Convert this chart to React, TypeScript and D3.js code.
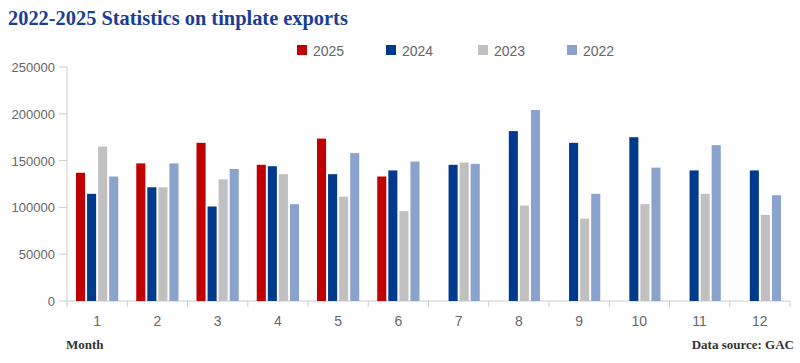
import * as d3 from "d3";

const months = ["1", "2", "3", "4", "5", "6", "7", "8", "9", "10", "11", "12"];
const years = ["2025", "2024", "2023", "2022"];
const colors = ["#c00000", "#003a8c", "#c0c0c0", "#8aa3cc"];

const v2025 = [137000, 147000, 169000, 145500, 173500, 133000, null, null, null, null, null, null];
const v2024 = [114500, 121500, 101000, 144000, 135500, 139500, 145500, 181500, 169000, 175000, 139500, 139500];
const v2023 = [165000, 121500, 130000, 135500, 111500, 96000, 148000, 102000, 88000, 103500, 114500, 92000];
const v2022 = [133000, 147000, 141000, 103500, 158000, 149000, 146500, 204000, 114500, 142500, 166500, 113000];

const yTicks = [0, 50000, 100000, 150000, 200000, 250000];

const series = [v2025, v2024, v2023, v2022];

export default function App() {
  const width = 800;
  const height = 363;
  const left = 67;
  const right = 790;
  const top = 67;
  const bottom = 301;

  const x = d3.scaleBand<string>().domain(months).range([left, right]);
  const inner = d3.scaleBand<string>().domain(years).range([9, x.bandwidth() - 9]).paddingInner(0.18);
  const y = d3.scaleLinear().domain([0, 250000]).range([bottom, top]);

  const legendX = [297, 386, 478, 567];
  const axisFont = "Arial, 'Liberation Sans', sans-serif";
  const serif = "'Liberation Serif', 'DejaVu Serif', serif";

  return (
    <svg width={width} height={height} style={{ position: "absolute", left: 0, top: 0, background: "#fff" }}>
      <text x={8} y={25} fontFamily={serif} fontWeight="bold" fontSize={20.4} fill="#1a3d96">
        2022-2025 Statistics on tinplate exports
      </text>

      {years.map((yr, i) => (
        <g key={yr} transform={`translate(${legendX[i]},0)`}>
          <rect x={0} y={45} width={10} height={10} fill={colors[i]} />
          <text x={16} y={56} fontFamily={axisFont} fontSize={14} fill="#666">{yr}</text>
        </g>
      ))}

      <line x1={left} x2={left} y1={top} y2={bottom} stroke="#ccc" />
      <line x1={left} x2={right} y1={bottom} y2={bottom} stroke="#ccc" />
      {yTicks.map((t) => (
        <g key={t}>
          <line x1={left - 8} x2={left} y1={y(t)} y2={y(t)} stroke="#ccc" />
          <text x={left - 12} y={y(t) + 5} textAnchor="end" fontFamily={axisFont} fontSize={13} fill="#666">
            {t}
          </text>
        </g>
      ))}
      {months.map((m) => (
        <line key={"t" + m} x1={x(m)!} x2={x(m)!} y1={bottom} y2={bottom + 6} stroke="#ccc" />
      ))}
      <line x1={right} x2={right} y1={bottom} y2={bottom + 6} stroke="#ccc" />
      {months.map((m) => (
        <text key={"l" + m} x={x(m)! + x.bandwidth() / 2} y={326} textAnchor="middle" fontFamily={axisFont} fontSize={14} fill="#666">
          {m}
        </text>
      ))}

      {months.map((m, mi) => (
        <g key={"g" + m} transform={`translate(${x(m)},0)`}>
          {series.map((s, si) =>
            s[mi] == null ? null : (
              <rect
                key={si}
                x={inner(years[si])}
                y={y(s[mi] as number)}
                width={inner.bandwidth()}
                height={bottom - y(s[mi] as number)}
                fill={colors[si]}
              />
            )
          )}
        </g>
      ))}

      <text x={66} y={349} fontFamily={serif} fontWeight="bold" fontSize={13} fill="#333">
        Month
      </text>
      <text x={794} y={349} textAnchor="end" fontFamily={serif} fontWeight="bold" fontSize={13} fill="#333">
        Data source: GAC
      </text>
    </svg>
  );
}
